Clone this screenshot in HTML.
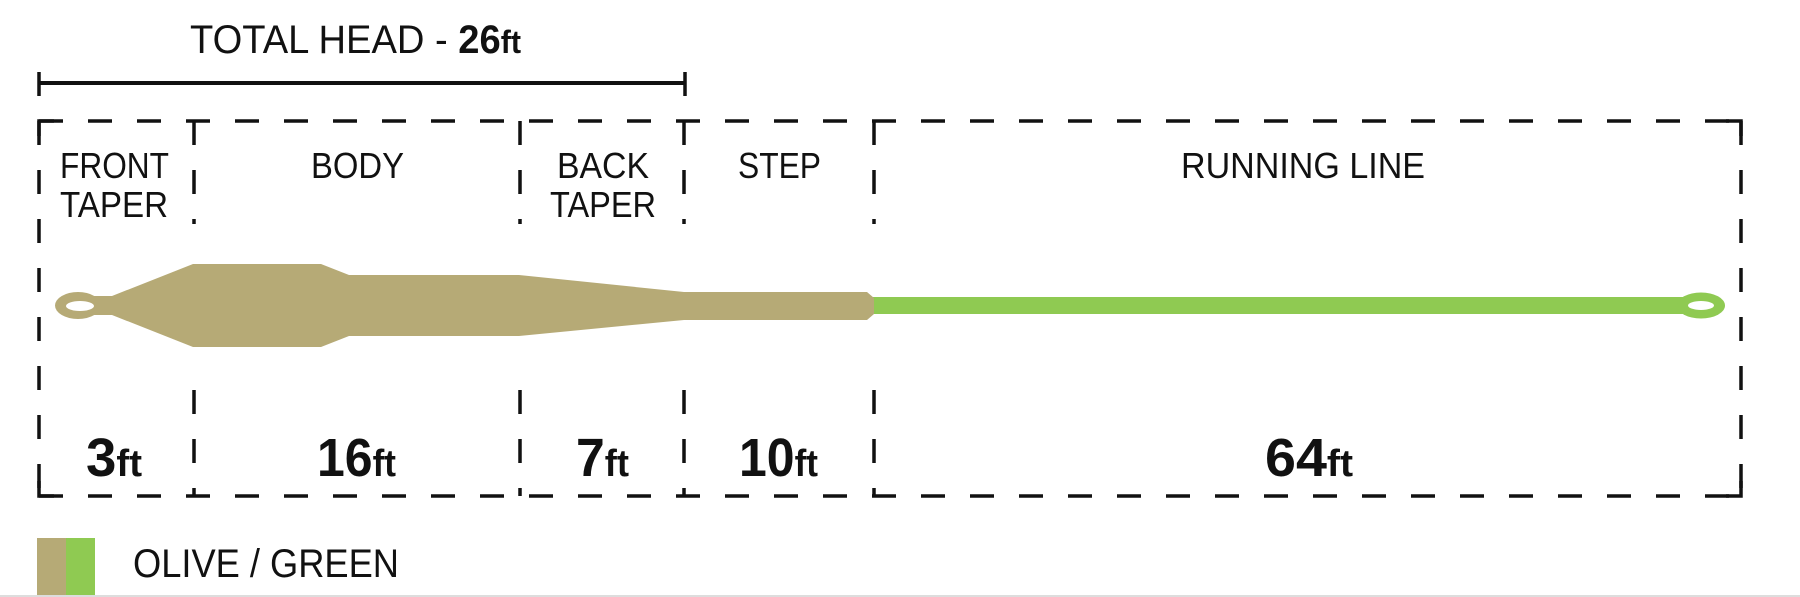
<!DOCTYPE html>
<html><head><meta charset="utf-8"><style>
html,body{margin:0;padding:0;background:#fff;}
svg{display:block}
text{font-family:"Liberation Sans Narrow","Liberation Sans",sans-serif;fill:#111;}
</style></head><body>
<svg width="1800" height="597" viewBox="0 0 1800 597" xmlns="http://www.w3.org/2000/svg">
<rect width="1800" height="597" fill="#fff"/>
<!-- total head bar -->
<line x1="39" y1="83" x2="685" y2="83" stroke="#111" stroke-width="4"/>
<line x1="39" y1="72" x2="39" y2="96" stroke="#111" stroke-width="3.5"/>
<line x1="685" y1="72" x2="685" y2="96" stroke="#111" stroke-width="3.5"/>
<text x="190" y="53" font-size="40" textLength="331" lengthAdjust="spacingAndGlyphs">TOTAL HEAD - <tspan font-weight="bold">26</tspan><tspan font-weight="bold" font-size="32">ft</tspan></text>
<!-- dashed boxes -->
<g stroke="#111" stroke-width="3.5" fill="none" stroke-dasharray="24 25">
<line x1="39" y1="121" x2="1741" y2="121"/>
<line x1="39" y1="496" x2="1741" y2="496"/>
<line x1="39" y1="121" x2="39" y2="496"/>
<line x1="1741" y1="121" x2="1741" y2="496"/>
<line x1="194" y1="121" x2="194" y2="224"/><line x1="194" y1="390" x2="194" y2="496"/>
<line x1="520" y1="121" x2="520" y2="224"/><line x1="520" y1="390" x2="520" y2="496"/>
<line x1="684" y1="121" x2="684" y2="224"/><line x1="684" y1="390" x2="684" y2="496"/>
<line x1="874" y1="121" x2="874" y2="224"/><line x1="874" y1="390" x2="874" y2="496"/>
</g>
<!-- corners solid -->
<g stroke="#111" stroke-width="3.5" fill="none">
<polyline points="39,136 39,121 54,121"/><polyline points="1726,121 1741,121 1741,136"/>
<polyline points="39,481 39,496 54,496"/><polyline points="1726,496 1741,496 1741,481"/>
</g>
<!-- labels -->
<g font-size="36">
<text x="60" y="178" textLength="109" lengthAdjust="spacingAndGlyphs">FRONT</text>
<text x="60" y="217" textLength="108" lengthAdjust="spacingAndGlyphs">TAPER</text>
<text x="311" y="178" textLength="93" lengthAdjust="spacingAndGlyphs">BODY</text>
<text x="557" y="178" textLength="92" lengthAdjust="spacingAndGlyphs">BACK</text>
<text x="550" y="217" textLength="106" lengthAdjust="spacingAndGlyphs">TAPER</text>
<text x="738" y="178" textLength="83" lengthAdjust="spacingAndGlyphs">STEP</text>
<text x="1181" y="178" textLength="244" lengthAdjust="spacingAndGlyphs">RUNNING LINE</text>
</g>
<g font-weight="bold" font-size="54">
<text x="86" y="476" textLength="56" lengthAdjust="spacingAndGlyphs">3<tspan font-size="38">ft</tspan></text>
<text x="317" y="476" textLength="79" lengthAdjust="spacingAndGlyphs">16<tspan font-size="38">ft</tspan></text>
<text x="576" y="476" textLength="53" lengthAdjust="spacingAndGlyphs">7<tspan font-size="38">ft</tspan></text>
<text x="739" y="476" textLength="79" lengthAdjust="spacingAndGlyphs">10<tspan font-size="38">ft</tspan></text>
<text x="1265" y="476" textLength="88" lengthAdjust="spacingAndGlyphs">64<tspan font-size="38">ft</tspan></text>
</g>
<!-- fly line -->
<rect x="860" y="297" width="830" height="17" fill="#8fca52"/>
<ellipse cx="1701" cy="305.5" rx="24" ry="13" fill="#8fca52"/>
<ellipse cx="1701" cy="305.5" rx="13" ry="4.5" fill="#fff"/>
<polygon fill="#b6aa76" points="90,296 112,296 193,264 321,264 349,275 519,275 684,292 867,292 874,298 874,314 867,320 684,320 519,336 349,336 321,347 193,347 112,315 90,315"/>
<ellipse cx="78" cy="305.5" rx="23" ry="13.5" fill="#b6aa76"/>
<ellipse cx="80" cy="306" rx="14" ry="5" fill="#fff"/>
<!-- legend -->
<rect x="37" y="538" width="29" height="59" fill="#b6aa76"/>
<rect x="66" y="538" width="29" height="59" fill="#8fca52"/>
<text x="133" y="577" font-size="40" textLength="266" lengthAdjust="spacingAndGlyphs">OLIVE / GREEN</text>
<line x1="0" y1="596" x2="1800" y2="596" stroke="#ddd" stroke-width="2"/>
</svg>
</body></html>
